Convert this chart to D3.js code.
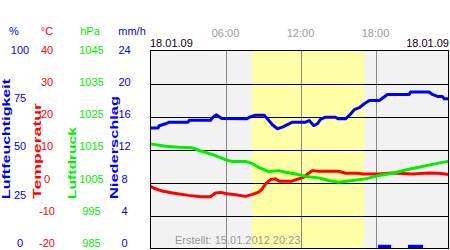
<!DOCTYPE html>
<html>
<head>
<meta charset="utf-8">
<script src="https://cdn.jsdelivr.net/npm/d3@7"></script>
<style>
  body { margin: 0; background: #fff; }
  svg { display: block; font-family: "Liberation Sans", Arial, sans-serif; }
</style>
</head>
<body>
<svg id="chart" width="450" height="250"></svg>
<script>
// Data (hours since 00:00 on 18.01.09)
const humTime = [0, 0.6, 0.7, 1.2, 1.5, 3.0, 3.1, 4.8, 5.0, 5.25, 5.7, 7.7, 7.9, 8.4, 9.1, 9.35, 9.75, 10.15, 10.55, 10.95, 11.35, 12.4, 12.7, 13.05, 13.35, 13.6, 14.0, 14.8, 15.0, 15.6, 15.9, 16.3, 16.7, 17.1, 17.5, 18.3, 18.55, 18.95, 20.7, 20.8, 22.3, 22.55, 22.95, 23.35, 23.5, 24];
const humValues = [60.8, 60.8, 62.0, 63.0, 63.8, 63.8, 64.8, 64.8, 66.3, 67.5, 65.7, 65.5, 66.3, 67.3, 67.3, 65.5, 62.5, 60.5, 61.3, 62.6, 63.8, 63.8, 64.6, 62.1, 63.0, 65.2, 66.3, 66.3, 65.5, 65.5, 67.2, 70.1, 71.1, 73.1, 74.7, 74.7, 75.9, 77.8, 77.8, 79.0, 79.0, 77.8, 76.8, 76.8, 75.6, 75.6];

const tempTime = [0, 0.4, 0.95, 1.75, 3.05, 4.0, 4.8, 5.2, 5.6, 6.15, 6.8, 7.6, 8.15, 8.65, 8.95, 9.2, 9.6, 10.0, 10.3, 11.3, 11.85, 12.25, 12.65, 12.95, 13.5, 15.05, 15.6, 16.65, 16.95, 18.25, 19.35, 20.95, 22.25, 23.05, 24];
const tempValues = [-1.2, -1.9, -2.6, -3.2, -3.9, -4.3, -4.3, -3.2, -3.0, -3.4, -3.7, -4.2, -3.6, -2.9, -1.9, -0.4, 0.9, 1.1, 0.4, 0.4, 1.1, 1.6, 2.8, 3.6, 3.4, 3.4, 2.8, 2.8, 2.6, 2.6, 2.9, 2.6, 2.9, 2.8, 2.4];

const presTime = [0, 1.2, 2.25, 3.35, 3.9, 4.95, 6.0, 6.5, 7.6, 8.15, 8.65, 9.45, 10.25, 10.8, 11.6, 12.4, 13.45, 14.25, 15.05, 16.15, 17.2, 18.25, 19.35, 20.4, 21.45, 22.55, 23.35, 24];
const presValues = [1016.7, 1016.0, 1015.7, 1015.5, 1014.7, 1013.5, 1011.9, 1011.4, 1011.4, 1010.7, 1009.6, 1008.3, 1008.6, 1008.1, 1007.6, 1006.8, 1006.4, 1005.6, 1005.1, 1005.6, 1006.1, 1007.1, 1007.8, 1008.8, 1009.6, 1010.5, 1011.1, 1011.5];

const precipStart = [18.2, 20.6];
const precipEnd = [19.25, 21.8];
const precipValues = [0.45, 0.45];

const daylight = [8.1, 17.1];

// Axis tick labels
const humTicks = [100, 75, 50, 25, 0];
const tempTicks = [40, 30, 20, 10, 0, -10, -20];
const presTicks = [1045, 1035, 1025, 1015, 1005, 995, 985];
const precipTicks = [24, 20, 16, 12, 8, 4, 0];
const timeTicks = [6, 12, 18];
const dateLabel = '18.01.09';
const createdLabel = 'Erstellt: 15.01.2012 20:23';

const blue = '#0000f0', red = '#ff0000', green = '#00ee00';

const svg = d3.select('#chart');
const plotLeft = 150, plotRight = 449, plotTop = 50, plotBottom = 248;

// Scales
const x = d3.scaleLinear().domain([0, 24]).range([plotLeft + 0.5, plotLeft + 300.5]);
const yHum = d3.scaleLinear().domain([0, 100]).range([plotBottom + 0.5, plotTop + 0.5]);
const yTemp = d3.scaleLinear().domain([-20, 40]).range([plotBottom + 0.5, plotTop + 0.5]);
const yPres = d3.scaleLinear().domain([985, 1045]).range([plotBottom + 0.5, plotTop + 0.5]);
const yPrec = d3.scaleLinear().domain([0, 24]).range([plotBottom + 0.5, plotTop + 0.5]);
// label text sits a bit higher than the grid towards the bottom
const yLab = d3.scaleLinear().domain([0, 1]).range([243, 50]);

// Plot background
svg.append('defs').append('clipPath').attr('id', 'clip')
  .append('rect').attr('x', plotLeft).attr('y', plotTop)
  .attr('width', plotRight - plotLeft).attr('height', plotBottom - plotTop);

svg.append('rect')
  .attr('x', plotLeft).attr('y', plotTop)
  .attr('width', plotRight - plotLeft).attr('height', plotBottom - plotTop)
  .attr('fill', '#f2f2f2');

svg.append('rect')
  .attr('x', x(daylight[0])).attr('y', plotTop)
  .attr('width', x(daylight[1]) - x(daylight[0])).attr('height', plotBottom - plotTop)
  .attr('fill', '#ffffa8');

// Grid
svg.append('g').selectAll('line')
  .data(timeTicks)
  .join('line')
  .attr('x1', d => Math.round(x(d)) + 0.5).attr('x2', d => Math.round(x(d)) + 0.5)
  .attr('y1', plotTop).attr('y2', plotBottom)
  .attr('stroke', '#888').attr('stroke-width', 1);

svg.append('g').selectAll('line')
  .data(tempTicks.slice(1, -1))
  .join('line')
  .attr('x1', plotLeft).attr('x2', plotRight)
  .attr('y1', d => Math.round(yTemp(d)) + 0.5).attr('y2', d => Math.round(yTemp(d)) + 0.5)
  .attr('stroke', '#000').attr('stroke-width', 1);

// Series
const plot = svg.append('g').attr('clip-path', 'url(#clip)');

function drawSeries(times, values, yScale, color) {
  const pts = times.map((t, i) => [t, values[i]]);
  plot.append('path')
    .datum(pts)
    .attr('fill', 'none')
    .attr('stroke', color)
    .attr('stroke-width', 3)
    .attr('stroke-linejoin', 'round')
    .attr('d', d3.line().x(d => x(d[0])).y(d => yScale(d[1])));
}

plot.append('g').selectAll('rect')
  .data(precipValues)
  .join('rect')
  .attr('x', (d, i) => x(precipStart[i]))
  .attr('width', (d, i) => x(precipEnd[i]) - x(precipStart[i]))
  .attr('y', d => yPrec(d))
  .attr('height', d => yPrec(0) - yPrec(d))
  .attr('fill', blue);

drawSeries(tempTime, tempValues, yTemp, red);
drawSeries(presTime, presValues, yPres, green);
drawSeries(humTime, humValues, yHum, blue);

// Frame
svg.append('rect')
  .attr('x', plotLeft + 0.5).attr('y', plotTop + 0.5)
  .attr('width', plotRight - plotLeft - 1).attr('height', plotBottom - plotTop)
  .attr('fill', 'none').attr('stroke', '#000');

// Left axes labels
function tickColumn(ticks, cx, color) {
  const n = ticks.length - 1;
  svg.append('g').selectAll('text')
    .data(ticks)
    .join('text')
    .attr('x', cx)
    .attr('y', (d, i) => yLab(1 - i / n))
    .attr('dy', '0.35em')
    .attr('text-anchor', 'middle')
    .attr('font-size', 11)
    .attr('fill', color)
    .text(d => d);
}
tickColumn(humTicks, 20, blue);
tickColumn(tempTicks, 47, red);
tickColumn(presTicks, 91.5, green);
tickColumn(precipTicks, 124.5, blue);

const units = [['%', 14, blue], ['°C', 47, red], ['hPa', 90, green], ['mm/h', 132, blue]];
svg.append('g').selectAll('text')
  .data(units)
  .join('text')
  .attr('x', d => d[1]).attr('y', 31).attr('dy', '0.35em')
  .attr('text-anchor', 'middle').attr('font-size', 11)
  .attr('fill', d => d[2])
  .text(d => d[0]);

const titles = [['Luftfeuchtigkeit', 9.5, 120, blue], ['Temperatur', 40.5, 96, red],
                ['Luftdruck', 76, 72, green], ['Niederschlag', 118, 103, blue]];
svg.append('g').selectAll('text')
  .data(titles)
  .join('text')
  .attr('transform', d => `translate(${d[1]},199) rotate(-90)`)
  .attr('font-size', 11.5).attr('font-weight', 'bold')
  .attr('textLength', d => d[2]).attr('lengthAdjust', 'spacingAndGlyphs')
  .attr('fill', d => d[3])
  .text(d => d[0]);

// Time labels
svg.append('g').selectAll('text')
  .data(timeTicks)
  .join('text')
  .attr('x', d => x(d)).attr('y', 33).attr('dy', '0.35em')
  .attr('text-anchor', 'middle').attr('font-size', 11).attr('fill', '#999')
  .text(d => d3.format('02')(d) + ':00');

svg.append('text')
  .attr('x', plotLeft).attr('y', 47).attr('font-size', 11).attr('fill', '#110011')
  .text(dateLabel);
svg.append('text')
  .attr('x', plotRight).attr('y', 47).attr('text-anchor', 'end').attr('font-size', 11).attr('fill', '#110011')
  .text(dateLabel);

svg.append('text')
  .attr('x', 175).attr('y', 244).attr('font-size', 11).attr('fill', '#999')
  .text(createdLabel);
</script>
</body>
</html>
